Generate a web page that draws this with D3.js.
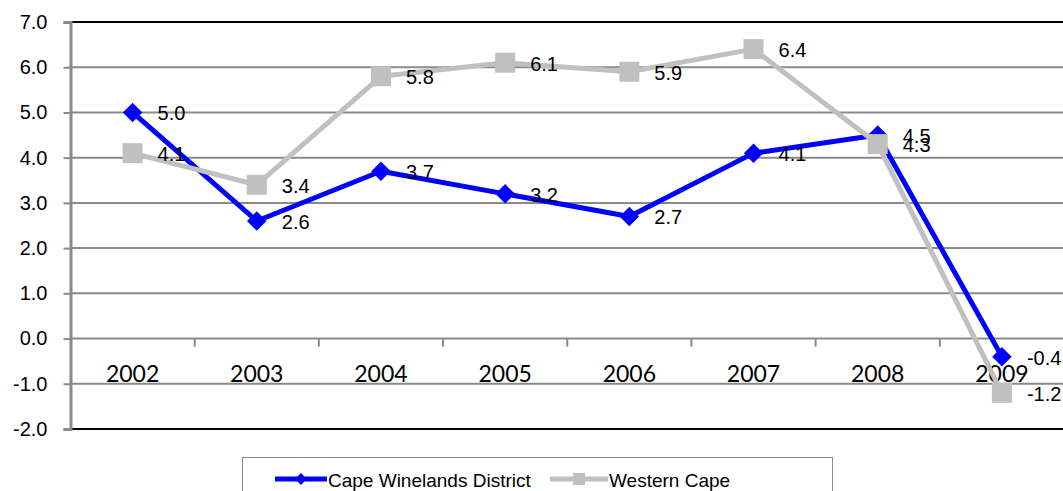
<!DOCTYPE html>
<html>
<head>
<meta charset="utf-8">
<script src="https://cdn.jsdelivr.net/npm/d3@7"></script>
<style>
  html, body { margin: 0; padding: 0; background: #fff; }
  svg { display: block; }
</style>
</head>
<body>
<svg id="chart" width="1063" height="491"></svg>
<script>
// Annual growth rates (%)
const years = ["2002", "2003", "2004", "2005", "2006", "2007", "2008", "2009"];
const capeWinelands = [5.0, 2.6, 3.7, 3.2, 2.7, 4.1, 4.5, -0.4];
const westernCape = [4.1, 3.4, 5.8, 6.1, 5.9, 6.4, 4.3, -1.2];
const yTicks = [-2, -1, 0, 1, 2, 3, 4, 5, 6, 7];

const seriesNames = ["Cape Winelands District", "Western Cape"];
const seriesColors = ["#0000FF", "#C0C0C0"];

// one decimal, plain hyphen for negatives
const fmt = v => (v < 0 ? "-" : "") + Math.abs(v).toFixed(1);

const svg = d3.select("#chart");
const plotLeft = 70.5, plotRight = 1064, plotTop = 22, plotBottom = 429;

const x = d3.scaleBand().domain(years).range([plotLeft, plotRight]);
const y = d3.scaleLinear().domain([-2, 7]).range([plotBottom, plotTop]);

// horizontal gridlines
svg.append("g")
  .selectAll("line")
  .data(yTicks.filter(t => t > -2 && t < 7))
  .join("line")
  .attr("x1", plotLeft).attr("x2", plotRight)
  .attr("y1", d => y(d)).attr("y2", d => y(d))
  .attr("stroke", "#8a8a8a").attr("stroke-width", 2);

// top and bottom plot borders
svg.append("line").attr("x1", plotLeft).attr("x2", plotRight)
  .attr("y1", plotTop).attr("y2", plotTop).attr("stroke", "#000").attr("stroke-width", 2);
svg.append("line").attr("x1", plotLeft).attr("x2", plotRight)
  .attr("y1", plotBottom).attr("y2", plotBottom).attr("stroke", "#000").attr("stroke-width", 2);

// y axis
const yAxis = svg.append("g")
  .attr("transform", `translate(${plotLeft},0)`)
  .call(d3.axisLeft(y).tickValues(yTicks).tickFormat(fmt).tickSize(7).tickPadding(16));
yAxis.select(".domain").attr("stroke", "#8a8a8a").attr("stroke-width", 3);
yAxis.selectAll(".tick line").attr("stroke", "#8a8a8a").attr("stroke-width", 2);
yAxis.selectAll(".tick text")
  .attr("font-family", "Liberation Sans, Arial, sans-serif")
  .attr("font-size", 20).attr("fill", "#000");

// category axis along the zero line, ticks between categories
const xBoundaries = years.slice(1).map(d => x(d));
svg.append("g")
  .selectAll("line")
  .data(xBoundaries)
  .join("line")
  .attr("x1", d => d).attr("x2", d => d)
  .attr("y1", y(0)).attr("y2", y(0) + 8)
  .attr("stroke", "#8a8a8a").attr("stroke-width", 2);

svg.append("g")
  .selectAll("text")
  .data(years)
  .join("text")
  .attr("x", d => x(d) + x.bandwidth() / 2)
  .attr("y", y(-1) - 11)
  .attr("text-anchor", "middle")
  .attr("dominant-baseline", "central")
  .attr("font-family", "Lato, sans-serif")
  .attr("font-size", 23)
  .attr("fill", "#000")
  .text(d => d);

const cx = d => x(d) + x.bandwidth() / 2;
const line = d3.line().x(d => cx(d.year)).y(d => y(d.value));

const allSeries = [capeWinelands, westernCape].map((vals, i) => ({
  name: seriesNames[i],
  color: seriesColors[i],
  points: years.map((yr, j) => ({ year: yr, value: vals[j] }))
}));

allSeries.forEach((s, i) => {
  const g = svg.append("g");
  g.append("path")
    .datum(s.points)
    .attr("d", line)
    .attr("fill", "none")
    .attr("stroke", s.color)
    .attr("stroke-width", 5)
    .attr("stroke-linejoin", "round");
  if (i === 0) {
    g.selectAll("path.m")
      .data(s.points)
      .join("path")
      .attr("class", "m")
      .attr("d", d3.symbol().type(d3.symbolSquare).size(190)())
      .attr("transform", d => `translate(${cx(d.year)},${y(d.value)}) rotate(45)`)
      .attr("fill", s.color);
  } else {
    g.selectAll("rect")
      .data(s.points)
      .join("rect")
      .attr("x", d => cx(d.year) - 10)
      .attr("y", d => y(d.value) - 10)
      .attr("width", 20).attr("height", 20)
      .attr("fill", s.color);
  }
  g.selectAll("text")
    .data(s.points)
    .join("text")
    .attr("x", d => cx(d.year) + 25)
    .attr("y", d => y(d.value) + 1)
    .attr("dominant-baseline", "central")
    .attr("font-family", "Liberation Sans, Arial, sans-serif")
    .attr("font-size", 20)
    .attr("fill", "#000")
    .text(d => fmt(d.value));
});

// legend
const legend = svg.append("g");
legend.append("rect")
  .attr("x", 242.5).attr("y", 457.5)
  .attr("width", 590).attr("height", 50)
  .attr("fill", "#fff").attr("stroke", "#8a8a8a").attr("stroke-width", 1);

const legendItems = [
  { x1: 275, x2: 327, tx: 328 },
  { x1: 550, x2: 608, tx: 609 }
];
legendItems.forEach((it, i) => {
  const ly = 479;
  legend.append("line")
    .attr("x1", it.x1).attr("x2", it.x2)
    .attr("y1", ly).attr("y2", ly)
    .attr("stroke", seriesColors[i]).attr("stroke-width", 5);
  if (i === 0) {
    legend.append("path")
      .attr("d", d3.symbol().type(d3.symbolSquare).size(70)())
      .attr("transform", `translate(${(it.x1 + it.x2) / 2},${ly}) rotate(45)`)
      .attr("fill", seriesColors[i]);
  } else {
    legend.append("rect")
      .attr("x", (it.x1 + it.x2) / 2 - 6).attr("y", ly - 6)
      .attr("width", 12).attr("height", 12)
      .attr("fill", seriesColors[i]);
  }
  legend.append("text")
    .attr("x", it.tx).attr("y", ly + 1)
    .attr("dominant-baseline", "central")
    .attr("font-family", "Liberation Sans, Arial, sans-serif")
    .attr("font-size", 19)
    .attr("fill", "#000")
    .text(seriesNames[i]);
});
</script>
</body>
</html>
